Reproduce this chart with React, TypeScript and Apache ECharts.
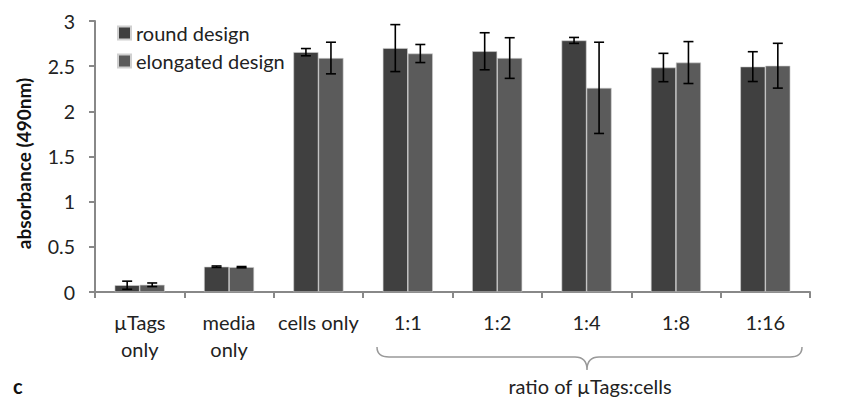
import React, { useEffect, useRef } from "react";
import * as echarts from "echarts";

const categories = ["µTags\nonly", "media\nonly", "cells only", "1:1", "1:2", "1:4", "1:8", "1:16"];
const roundValues = [0.075, 0.28, 2.655, 2.70, 2.665, 2.785, 2.485, 2.495];
const roundErrors = [0.045, 0.008, 0.04, 0.26, 0.205, 0.033, 0.157, 0.165];
const elongValues = [0.08, 0.275, 2.59, 2.64, 2.59, 2.26, 2.54, 2.505];
const elongErrors = [0.02, 0.007, 0.175, 0.1, 0.225, 0.505, 0.232, 0.248];
const yTicks = [0, 0.5, 1, 1.5, 2, 2.5, 3];

const FONT = "Lato, 'Open Sans', sans-serif";

const bracketD =
  "M0,0 Q0,10 12,10 L198,10 Q210,10 210,23 Q210,10 222,10 L413,10 Q425,10 425,0";

export default function App() {
  const ref = useRef<HTMLDivElement>(null);
  useEffect(() => {
    document.body.style.margin = "0";
    if (!ref.current) return;
    try {
      echarts.graphic.registerShape("bracket", echarts.graphic.extendPath(bracketD, {}) as any);
    } catch (e) {}
    const chart = echarts.init(ref.current, undefined, { renderer: "svg" });

    const errSeries = (vals: number[], errs: number[], side: number, name: string) => ({
      type: "custom",
      name: name + " err",
      z: 5,
      data: vals.map((v, i) => [i, v - errs[i], v + errs[i]]),
      renderItem: (params: any, api: any) => {
        const i = api.value(0);
        const bw = api.size([1, 0])[0];
        const lo = api.coord([i, api.value(1)]);
        const hi = api.coord([i, api.value(2)]);
        const x = lo[0] + side * bw * 0.14;
        const cap = 5;
        const st = { stroke: "#000", lineWidth: 1.6 };
        return {
          type: "group",
          children: [
            { type: "line", shape: { x1: x, y1: lo[1], x2: x, y2: hi[1] }, style: st },
            { type: "line", shape: { x1: x - cap, y1: lo[1], x2: x + cap, y2: lo[1] }, style: st },
            { type: "line", shape: { x1: x - cap, y1: hi[1], x2: x + cap, y2: hi[1] }, style: st },
          ],
        };
      },
    });

    chart.setOption({
      animation: false,
      textStyle: { fontFamily: FONT },
      grid: { left: 95, right: 42, top: 21, bottom: 110 },
      legend: {
        left: 117,
        top: 23,
        padding: 0,
        orient: "vertical",
        itemWidth: 13,
        itemHeight: 13,
        itemGap: 8,
        icon: "rect",
        textStyle: { fontSize: 20, color: "#222", fontFamily: FONT },
        data: ["round design", "elongated design"],
      },
      xAxis: {
        type: "category",
        data: categories,
        axisLine: { lineStyle: { color: "#888", width: 2 } },
        axisTick: { show: true, length: 6, lineStyle: { color: "#888", width: 2 } },
        axisLabel: { fontSize: 20, color: "#222", margin: 16, lineHeight: 27, interval: 0 },
      },
      yAxis: {
        type: "value",
        min: 0,
        max: 3,
        interval: 0.5,
        name: "absorbance (490nm)",
        nameLocation: "middle",
        nameGap: 62,
        nameTextStyle: { fontSize: 19, fontWeight: "bold", color: "#111", padding: [0, 14, 0, 0] },
        axisLine: { show: true, lineStyle: { color: "#888", width: 2 } },
        axisTick: { show: true, length: 6, lineStyle: { color: "#888", width: 2 } },
        splitLine: { show: false },
        axisLabel: {
          fontSize: 19.5,
          color: "#222",
          margin: 20,
          formatter: (v: number) => (yTicks.includes(v) ? String(v) : ""),
        },
      },
      series: [
        {
          type: "bar",
          name: "round design",
          data: roundValues,
          barGap: "0%",
          barCategoryGap: "44%",
          itemStyle: { color: "#404040", borderColor: "#d0d0d0", borderWidth: 0.6 },
        },
        {
          type: "bar",
          name: "elongated design",
          data: elongValues,
          barGap: "0%",
          barCategoryGap: "44%",
          itemStyle: { color: "#5b5b5b", borderColor: "#d0d0d0", borderWidth: 0.6 },
        },
        errSeries(roundValues, roundErrors, -1, "round"),
        errSeries(elongValues, elongErrors, 1, "elongated"),
      ],
      graphic: [
        {
          type: "bracket",
          x: 377,
          y: 347,
          shape: {},
          style: { stroke: "#999", lineWidth: 1.5, fill: "none" },
        },
        {
          type: "text",
          x: 590,
          y: 386,
          style: { text: "ratio of µTags:cells", fontSize: 20, fill: "#222", fontFamily: FONT, textAlign: "center", textVerticalAlign: "middle" },
        },
        {
          type: "text",
          x: 13,
          y: 386,
          style: { text: "c", fontSize: 20, fontWeight: "bold", fill: "#111", fontFamily: FONT, textVerticalAlign: "middle" },
        },
      ],
    });
    return () => chart.dispose();
  }, []);
  return <div ref={ref} style={{ width: 852, height: 402 }} />;
}
